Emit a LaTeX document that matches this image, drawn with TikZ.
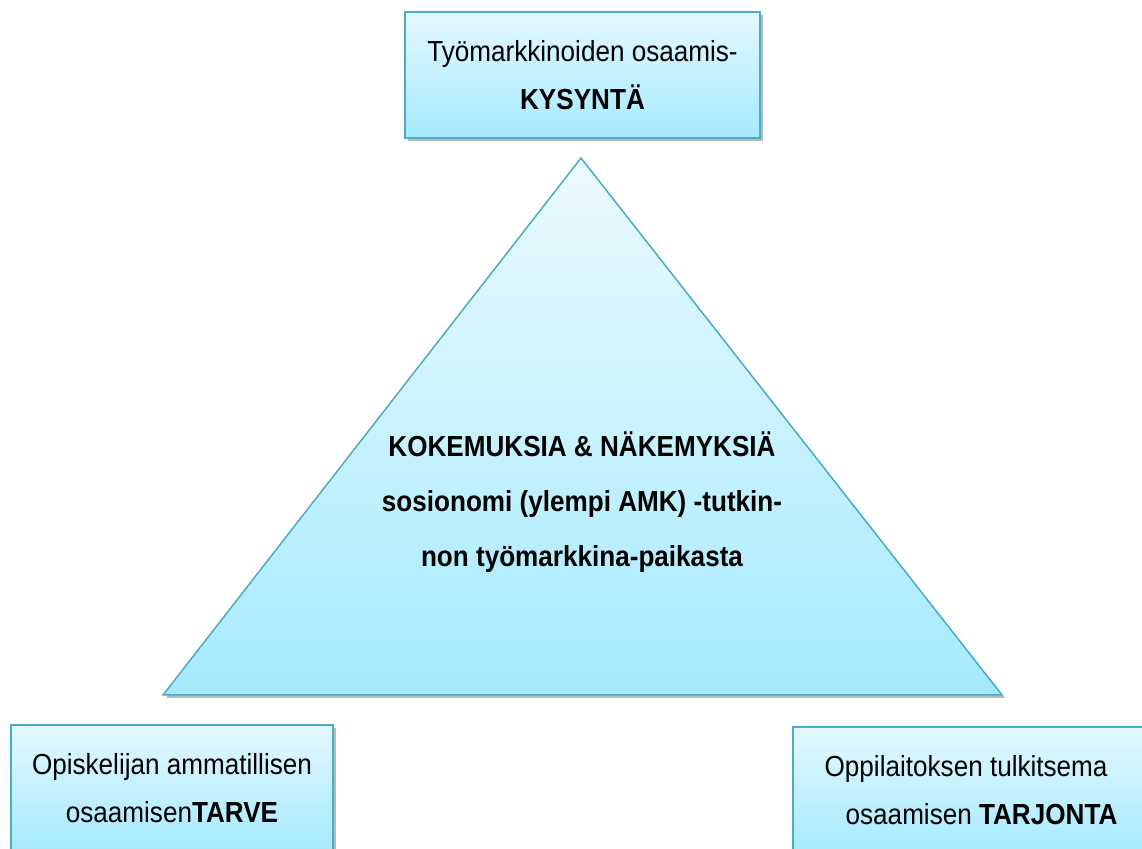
\documentclass[tikz,border=0pt]{standalone}
\usepackage{fontspec}
\setmainfont[FakeStretch=0.9]{Liberation Sans}
\usepackage{xcolor}
\usepackage{tikz}
\usetikzlibrary{shadows}
\definecolor{boxtop}{RGB}{228, 248, 254}
\definecolor{boxbottom}{RGB}{165, 234, 254}
\definecolor{boxline}{RGB}{75, 172, 198}

\tikzset{
  boxstyle/.style={draw=boxline, line width=1.5pt, top color=boxtop, bottom color=boxbottom,
    drop shadow={shadow xshift=3pt, shadow yshift=-3pt, fill=black!45, opacity=0.6},
    align=center, inner sep=0pt},
  boxtext/.style={font=\fontsize{29}{48}\selectfont},
}

\begin{document}
\begin{tikzpicture}[x=1pt, y=1pt]
    \useasboundingbox (0,0) rectangle (1142,848);
    \clip (0,0) rectangle (1142,848);

    % Triangle
    \draw[draw=boxline, line width=1.5pt, top color=boxtop!70!white, bottom color=boxbottom,
      shading angle=0, drop shadow={shadow xshift=3pt, shadow yshift=-3pt, fill=black!45, opacity=0.6}]
      (163,153) -- (581,690) -- (1002,153) -- cycle;
    \node[align=center, font=\fontsize{29}{55}\selectfont\bfseries] (core) at (582,346)
      {KOKEMUKSIA \& NÄKEMYKSIÄ\\ sosionomi (ylempi AMK) -tutkin-\\ non työmarkkina-paikasta};

    % Demand
    \node[boxstyle, boxtext, minimum width=355, minimum height=126] (kysynta) at (582.5,773)
      {Työmarkkinoiden osaamis-\\ \textbf{KYSYNTÄ}};

    % Need
    \node[boxstyle, boxtext, minimum width=322, minimum height=126] (tarve) at (172,60)
      {Opiskelijan ammatillisen\\ osaamisen\textbf{TARVE}};

    % Supply
    \node[boxstyle, boxtext, align=left, minimum width=356, minimum height=126] (tarjonta) at (971,58)
      {Oppilaitoksen tulkitsema\\ \hspace*{21pt}osaamisen \textbf{TARJONTA}};
\end{tikzpicture}
\end{document}
